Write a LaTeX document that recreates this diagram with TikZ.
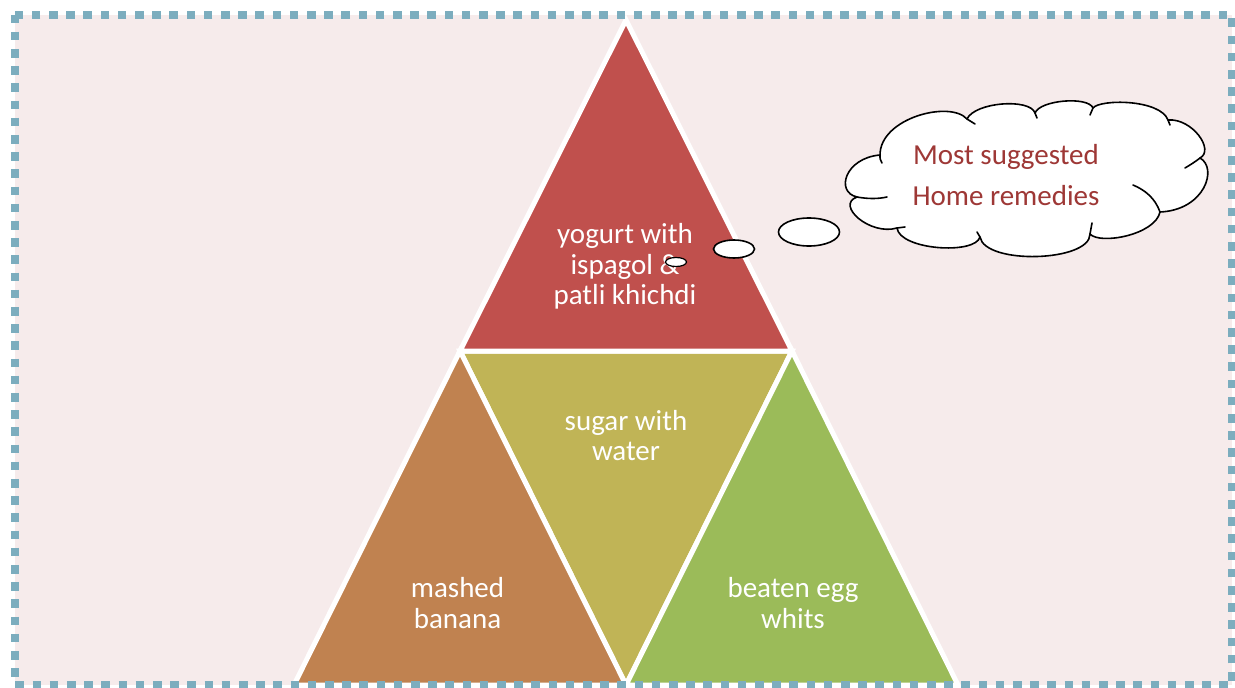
\documentclass[tikz,border=0pt]{standalone}
\usepackage{fontspec}
\setmainfont{Carlito}
\usetikzlibrary{shapes.geometric}
\definecolor{framepink}{RGB}{246,235,235}
\definecolor{framedash}{RGB}{124,173,190}
\definecolor{toptri}{RGB}{192,80,77}
\definecolor{midtri}{RGB}{192,180,86}
\definecolor{lefttri}{RGB}{192,130,80}
\definecolor{righttri}{RGB}{155,187,89}
\definecolor{cloudtext}{RGB}{158,56,54}
\begin{document}
\begin{tikzpicture}[x=1pt,y=-1pt,
  tri/.style={draw=white,line width=5pt,line join=miter},
  label/.style={text=white,align=center,font=\fontsize{29}{30.5}\selectfont},
  bubble/.style={draw=black,fill=white,line width=1.6pt,ellipse},
  cloudline/.style={draw=black,line width=1.6pt,line cap=round},
]
\useasboundingbox (0,0) rectangle (1235,688);
% page frame fill
\fill[framepink] (15,14.5) rectangle (1232,685);

% the four triangles
\coordinate (apex) at (626,20);
\coordinate (ml) at (460,351);
\coordinate (mr) at (792,351);
\coordinate (bm) at (626,685);
\coordinate (bl) at (294,685);
\coordinate (br) at (958,685);
\filldraw[tri,fill=midtri] (ml) -- (mr) -- (bm) -- cycle;
\filldraw[tri,fill=toptri] (apex) -- (mr) -- (ml) -- cycle;
\filldraw[tri,fill=lefttri] (ml) -- (bm) -- (bl) -- cycle;
\filldraw[tri,fill=righttri] (mr) -- (br) -- (bm) -- cycle;

\node[label] (ttop) at (625,266.5) {yogurt with\\ispagol \&\\patli khichdi};
\node[label] (tmid) at (626,435.5) {sugar with\\water};
\node[label] (tleft) at (457.5,603) {mashed\\banana};
\node[label] (tright) at (793,603) {beaten egg\\whits};

% thought cloud: eleven puffs between the valley points
\coordinate (vA) at (880,155);
\coordinate (vJ) at (967,119);
\coordinate (vK) at (1035,113);
\coordinate (vI) at (1093,108);
\coordinate (vH) at (1168,120);
\coordinate (vG) at (1200,158);
\coordinate (vF) at (1160,212);
\coordinate (vE) at (1090,234);
\coordinate (vD) at (980,237);
\coordinate (vC) at (897,228);
\coordinate (vB) at (857,197);
\path[fill=white,cloudline,line join=round]
  (vA) .. controls (880,118) and (950,100) .. (vJ)
       .. controls (975,102) and (1030,98) .. (vK)
       .. controls (1040,100) and (1088,96) .. (vI)
       .. controls (1100,99) and (1160,99) .. (vH)
       .. controls (1192,118) and (1215,150) .. (vG)
       .. controls (1218,168) and (1205,210) .. (vF)
       .. controls (1155,235) and (1100,245) .. (vE)
       .. controls (1090,262) and (985,265) .. (vD)
       .. controls (975,255) and (900,250) .. (vC)
       .. controls (870,236) and (835,205) .. (vB)
       .. controls (835,192) and (845,158) .. (vA) -- cycle;
% inner strokes where the puffs meet
\draw[cloudline] (vB) .. controls (868,199) and (878,199) .. (887,197);
\draw[cloudline] (vF) .. controls (1155,198) and (1145,190) .. (1133,185);
\draw[cloudline] (vG) .. controls (1195,162) and (1190,165) .. (1185,168);
\draw[cloudline] (vA) .. controls (880,159) .. (882,163);
\draw[cloudline] (vJ) .. controls (971,121) .. (975,124);
\draw[cloudline] (vK) .. controls (1036,115) .. (1037,118);
\draw[cloudline] (vI) .. controls (1091,111) .. (1090,115);
\draw[cloudline] (vH) .. controls (1169,122) .. (1170,125);
\draw[cloudline] (vE) .. controls (1091,228) .. (1092,223);
\draw[cloudline] (vD) .. controls (979,234) .. (977,232);
\draw[cloudline] (vC) .. controls (901,228) .. (905,227);

\node[text=cloudtext,align=center,font=\fontsize{29}{41}\selectfont]
  (cloudlabel) at (1006,175.5) {Most suggested\\Home remedies};
\node[bubble,minimum width=61pt,minimum height=28pt,inner sep=0pt] (b1) at (809,232) {};
\node[bubble,minimum width=41pt,minimum height=18pt,inner sep=0pt] (b2) at (734,249) {};
\node[bubble,minimum width=21pt,minimum height=9pt,inner sep=0pt,line width=1.2pt] (b3) at (676,262) {};

% dotted frame border on top
\draw[framedash,line width=8pt,dash pattern=on 8.6pt off 8.6pt]
  (15,14.5) rectangle (1232,685);
\end{tikzpicture}
\end{document}
